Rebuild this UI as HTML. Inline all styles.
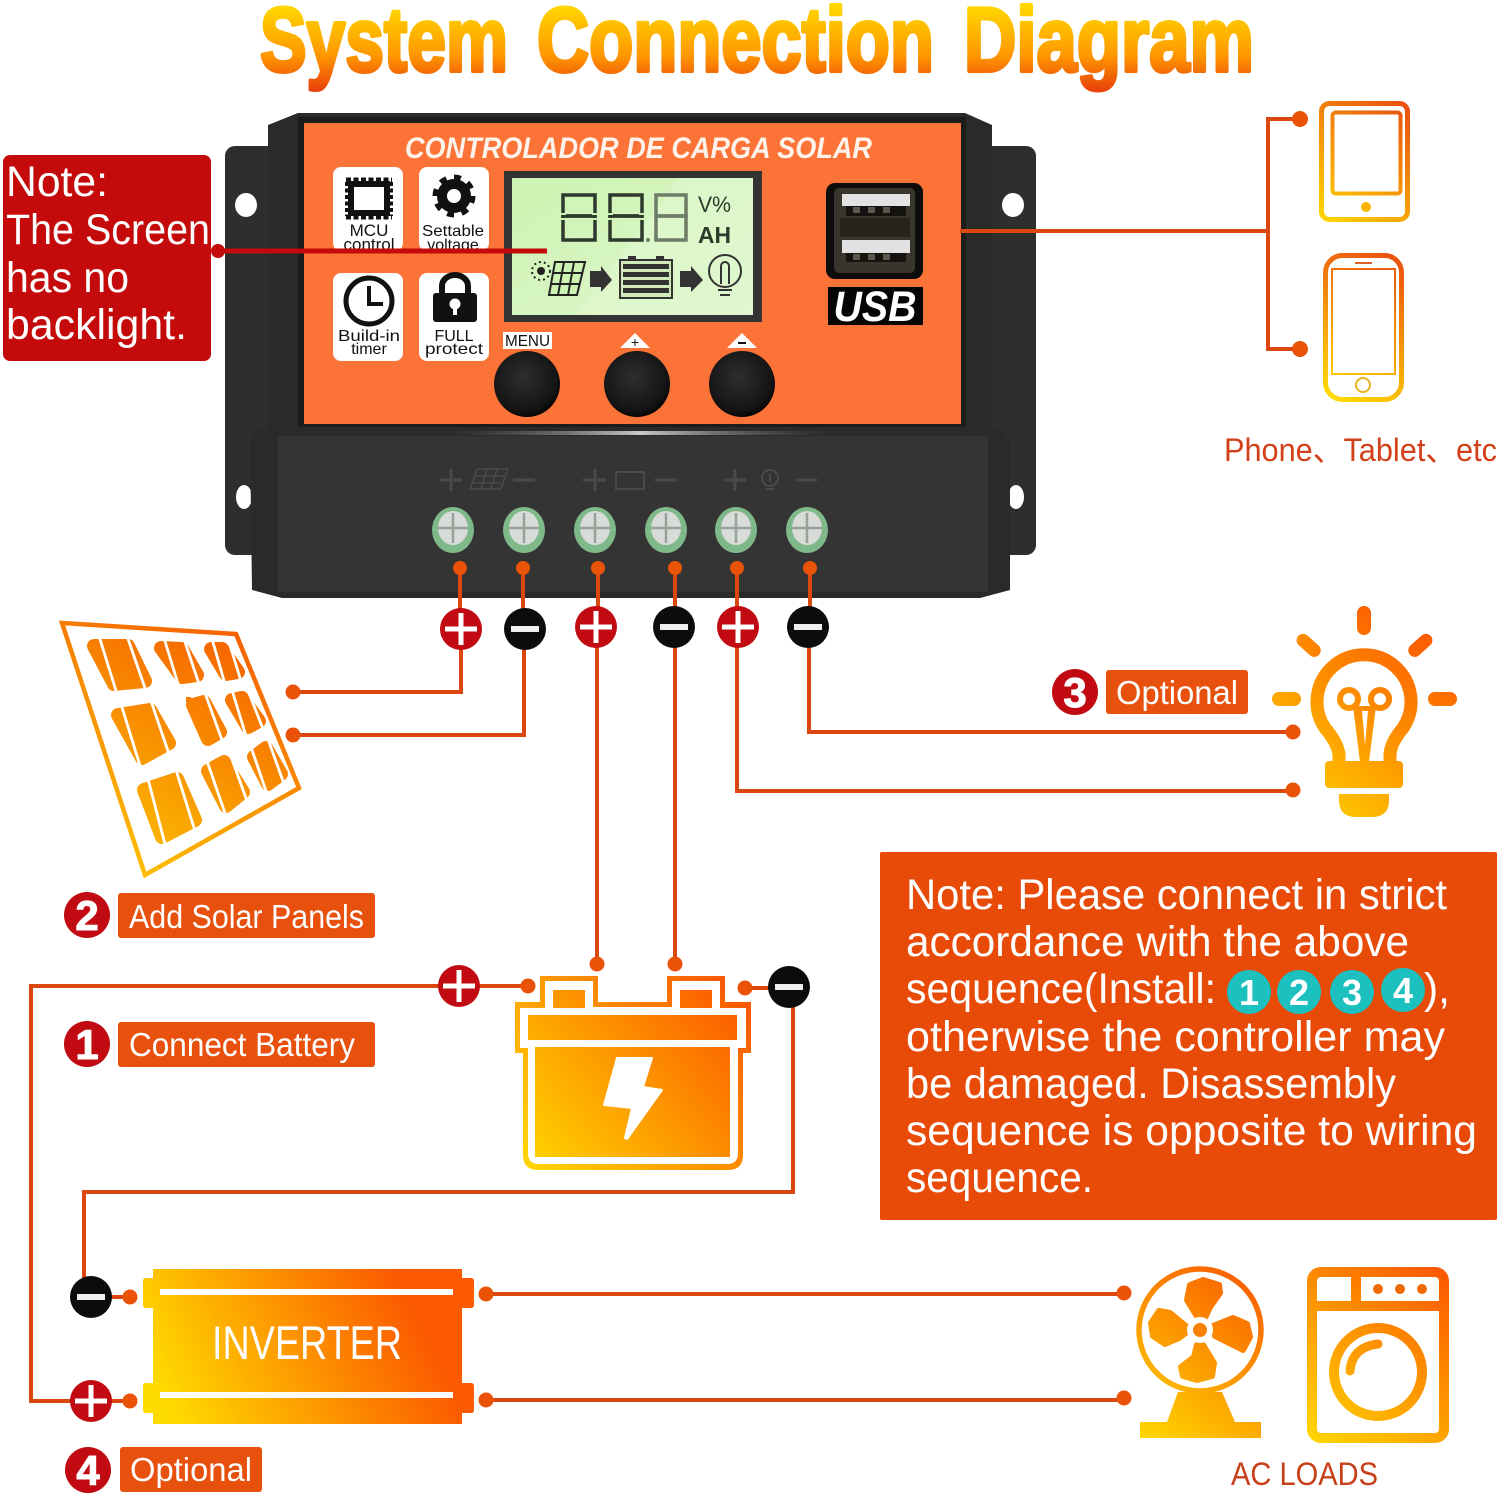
<!DOCTYPE html>
<html><head><meta charset="utf-8"><title>System Connection Diagram</title>
<style>html,body{margin:0;padding:0;background:#fff}svg{display:block}
text{font-family:"Liberation Sans","Noto Sans CJK SC",sans-serif}
</style></head><body>
<svg xmlns="http://www.w3.org/2000/svg" width="1500" height="1495" viewBox="0 0 1500 1495">
<defs>
<linearGradient id="gT" gradientUnits="userSpaceOnUse" x1="0" y1="3" x2="0" y2="90"><stop offset="0" stop-color="#ffdb00"/><stop offset=".6" stop-color="#ff9800"/><stop offset="1" stop-color="#e8430a"/></linearGradient>
<linearGradient id="gS" gradientUnits="userSpaceOnUse" x1="130" y1="880" x2="270" y2="630"><stop offset="0" stop-color="#fcc200"/><stop offset="1" stop-color="#f55a00"/></linearGradient>
<linearGradient id="gB" gradientUnits="userSpaceOnUse" x1="530" y1="1170" x2="745" y2="990"><stop offset="0" stop-color="#ffd500"/><stop offset="1" stop-color="#fb5500"/></linearGradient>
<linearGradient id="gI" gradientUnits="userSpaceOnUse" x1="170" y1="1420" x2="450" y2="1280"><stop offset="0" stop-color="#ffdc00"/><stop offset=".85" stop-color="#fb5a00"/></linearGradient>
<linearGradient id="gL" gradientUnits="userSpaceOnUse" x1="1300" y1="815" x2="1435" y2="640"><stop offset="0" stop-color="#ffd000"/><stop offset="1" stop-color="#fb5a00"/></linearGradient>
<linearGradient id="gF" gradientUnits="userSpaceOnUse" x1="1140" y1="1440" x2="1265" y2="1270"><stop offset="0" stop-color="#ffd800"/><stop offset="1" stop-color="#f95600"/></linearGradient>
<linearGradient id="gW" gradientUnits="userSpaceOnUse" x1="1307" y1="1443" x2="1449" y2="1267"><stop offset="0" stop-color="#ffd800"/><stop offset="1" stop-color="#fb5400"/></linearGradient>
<linearGradient id="gP1" gradientUnits="userSpaceOnUse" x1="1320" y1="222" x2="1410" y2="100"><stop offset="0" stop-color="#ffd800"/><stop offset="1" stop-color="#ea4a10"/></linearGradient>
<linearGradient id="gP2" gradientUnits="userSpaceOnUse" x1="1323" y1="402" x2="1404" y2="253"><stop offset="0" stop-color="#ffe000"/><stop offset="1" stop-color="#ea4a10"/></linearGradient>
<linearGradient id="gLCD" x1="0" y1="0" x2="1" y2="1"><stop offset="0" stop-color="#cdf3b2"/><stop offset="1" stop-color="#def7cd"/></linearGradient>
<linearGradient id="gHi" x1="0" y1="0" x2="1" y2="0"><stop offset="0" stop-color="#555" stop-opacity="0"/><stop offset=".5" stop-color="#c8c8c8"/><stop offset="1" stop-color="#555" stop-opacity="0"/></linearGradient>
<radialGradient id="gBtn" cx=".45" cy=".4" r=".6"><stop offset="0" stop-color="#2e2e2e"/><stop offset=".85" stop-color="#141414"/><stop offset="1" stop-color="#050505"/></radialGradient>
</defs>

<!-- Title -->
<g font-size="91" font-weight="700" fill="url(#gT)" stroke="url(#gT)" stroke-width="4" stroke-linejoin="round" lengthAdjust="spacingAndGlyphs">
<text x="260" y="71" textLength="248" lengthAdjust="spacingAndGlyphs">System</text>
<text x="537" y="71" textLength="397" lengthAdjust="spacingAndGlyphs">Connection</text>
<text x="964" y="71" textLength="290" lengthAdjust="spacingAndGlyphs">Diagram</text>
</g>

<!-- Controller -->
<rect x="225" y="146" width="60" height="409" rx="10" fill="#2e2e2e"/>
<rect x="976" y="146" width="60" height="409" rx="10" fill="#2e2e2e"/>
<polygon points="268,125 298,113 965,113 992,125 992,432 268,432" fill="#2a2a2a"/>
<rect x="298" y="117" width="668" height="310" fill="#1c1c1c"/>
<rect x="304" y="123" width="657" height="301" fill="#fb7336"/>
<ellipse cx="246" cy="205" rx="11" ry="12" fill="#fff"/><ellipse cx="1013" cy="205" rx="11" ry="12" fill="#fff"/>
<ellipse cx="244" cy="497" rx="8" ry="12" fill="#fff"/><ellipse cx="1016" cy="497" rx="8" ry="12" fill="#fff"/>
<polygon points="256,428 1000,428 1010,440 1010,590 980,598 282,598 252,590 250,440" fill="#2a2a2a"/>
<polygon points="278,436 988,436 988,592 278,592" fill="#343434"/>
<rect x="440" y="431" width="400" height="4" fill="url(#gHi)"/>

<text x="405" y="158" font-size="30" font-style="italic" font-weight="700" fill="#fdf3ea" textLength="467" lengthAdjust="spacingAndGlyphs">CONTROLADOR DE CARGA SOLAR</text>

<!-- Feature cards -->
<rect x="333" y="167" width="70" height="84" rx="8" fill="#fff"/>
<rect x="419" y="167" width="70" height="84" rx="8" fill="#fff"/>
<rect x="333" y="273" width="70" height="88" rx="8" fill="#fff"/>
<rect x="419" y="273" width="70" height="88" rx="8" fill="#fff"/>
<rect x="351" y="184" width="36" height="29" fill="#fff" stroke="#111" stroke-width="6"/>
<path d="M346 180H392M346 217H392" stroke="#111" stroke-width="5" stroke-dasharray="5 2.500" fill="none"/>
<path d="M347 182V216M391 182V216" stroke="#111" stroke-width="4" stroke-dasharray="4 2.500" fill="none"/>
<circle cx="454" cy="196" r="12" fill="none" stroke="#111" stroke-width="10"/>
<circle cx="454" cy="196" r="19" fill="none" stroke="#111" stroke-width="5" stroke-dasharray="7 7.900"/>
<circle cx="369" cy="301" r="23" fill="none" stroke="#111" stroke-width="5"/>
<path d="M369 286V304H383" fill="none" stroke="#111" stroke-width="4"/>
<rect x="433" y="293" width="44" height="29" rx="3" fill="#111"/>
<path d="M442 293V286a13 11 0 0 1 26 0V293" fill="none" stroke="#111" stroke-width="6"/>
<circle cx="455" cy="304" r="5.500" fill="#fff"/><rect x="453" y="306" width="4" height="9" fill="#fff"/>
<g fill="#111" text-anchor="middle">
<text x="369" y="236" font-size="17">MCU</text>
<text x="369" y="250" font-size="17">control</text>
<text x="453" y="236" font-size="16" textLength="62" lengthAdjust="spacingAndGlyphs">Settable</text>
<text x="453" y="250" font-size="16">voltage</text>
<text x="369" y="341" font-size="16" textLength="62" lengthAdjust="spacingAndGlyphs">Build-in</text>
<text x="369" y="354" font-size="16">timer</text>
<text x="454" y="341" font-size="16">FULL</text>
<text x="454" y="354" font-size="16" textLength="58" lengthAdjust="spacingAndGlyphs">protect</text>
</g>

<!-- LCD -->
<rect x="504" y="171" width="258" height="151" fill="#333"/>
<rect x="512" y="178" width="241" height="137" fill="url(#gLCD)"/>
<polygon points="680,178 753,178 753,315 575,315" fill="#e2f8d2" opacity=".55"/>
<g fill="none" stroke="#2d392d" stroke-width="3.500">
<rect x="563" y="195" width="32" height="21"/><rect x="563" y="216" width="32" height="24"/>
<rect x="610" y="195" width="32" height="21"/><rect x="610" y="216" width="32" height="24"/>
<g stroke="#6e7c68"><rect x="656" y="195" width="30" height="21"/><rect x="656" y="216" width="30" height="24"/></g>
</g>
<g fill="#cdf3b2"><rect x="560" y="213" width="6" height="2"/><rect x="592" y="213" width="6" height="2"/><rect x="560" y="218" width="6" height="2"/><rect x="592" y="218" width="6" height="2"/>
<rect x="607" y="213" width="6" height="2"/><rect x="639" y="213" width="6" height="2"/><rect x="607" y="218" width="6" height="2"/><rect x="639" y="218" width="6" height="2"/></g>
<circle cx="648" cy="240" r="2" fill="#6e7c68"/>
<text x="698" y="212" font-size="22" fill="#2b3a2b" textLength="33" lengthAdjust="spacingAndGlyphs">V%</text>
<text x="698" y="243" font-size="23" font-weight="700" fill="#2b3a2b" textLength="33" lengthAdjust="spacingAndGlyphs">AH</text>
<circle cx="541" cy="271" r="4" fill="#222"/>
<circle cx="541" cy="271" r="9" fill="none" stroke="#222" stroke-width="2" stroke-dasharray="2 3"/>
<polygon points="555,262 585,262 577,295 549,295" fill="#cdf3b2" stroke="#222" stroke-width="2"/>
<g stroke="#222" stroke-width="2" fill="none"><path d="M553 273H582M551 284H580M564 262L558 295M574 262L568 295"/></g>
<polygon points="590,271 601,271 601,266 612,280 601,292 601,287 590,287" fill="#333"/>
<polygon points="680,271 691,271 691,266 703,280 691,292 691,287 680,287" fill="#333"/>
<rect x="620" y="260" width="52" height="38" fill="#cfe9bb" stroke="#333" stroke-width="2"/>
<g fill="#333"><rect x="623" y="264" width="46" height="5"/><rect x="623" y="272" width="46" height="5"/><rect x="623" y="280" width="46" height="5"/><rect x="623" y="288" width="46" height="5"/><rect x="628" y="256" width="8" height="4"/><rect x="656" y="256" width="8" height="4"/></g>
<circle cx="725" cy="271" r="16" fill="none" stroke="#333" stroke-width="2"/>
<path d="M718 290H732M720 295H730" stroke="#333" stroke-width="2"/>
<path d="M721 284V266a4 4 0 0 1 8 0V284" fill="none" stroke="#333" stroke-width="2"/>

<!-- Buttons -->
<rect x="503" y="332" width="49" height="17" fill="#fff"/>
<text x="505" y="346" font-size="16" fill="#111" textLength="45" lengthAdjust="spacingAndGlyphs">MENU</text>
<polygon points="635,333 650,348 620,348" fill="#fff"/><polygon points="742,333 757,348 727,348" fill="#fff"/>
<text x="635" y="347" font-size="14" fill="#111" text-anchor="middle">+</text>
<rect x="738" y="342" width="8" height="2" fill="#111"/>
<circle cx="527" cy="384" r="33" fill="url(#gBtn)"/>
<circle cx="637" cy="384" r="33" fill="url(#gBtn)"/>
<circle cx="742" cy="384" r="33" fill="url(#gBtn)"/>

<!-- USB -->
<rect x="826" y="183" width="97" height="96" rx="9" fill="#0c0c0c"/>
<rect x="834" y="188" width="81" height="85" rx="5" fill="#3a352c"/>
<rect x="840" y="218" width="70" height="19" fill="#26231d"/>
<rect x="842" y="194" width="68" height="12" fill="#e2e2e2"/>
<rect x="842" y="240" width="68" height="13" fill="#e2e2e2"/>
<g fill="#15130f"><rect x="846" y="206" width="60" height="10"/><rect x="846" y="253" width="60" height="9"/></g>
<g fill="#5e564a"><rect x="853" y="207" width="7" height="6"/><rect x="868" y="207" width="7" height="6"/><rect x="883" y="207" width="7" height="6"/><rect x="853" y="254" width="7" height="6"/><rect x="868" y="254" width="7" height="6"/><rect x="883" y="254" width="7" height="6"/></g>
<rect x="828" y="287" width="95" height="38" fill="#050505"/>
<text x="875" y="321" font-size="43" font-style="italic" font-weight="700" fill="#fff" text-anchor="middle" textLength="83" lengthAdjust="spacingAndGlyphs">USB</text>

<!-- Terminal markings -->
<g stroke="#4a4a4a" stroke-width="3" fill="none">
<path d="M440 480H462M451 469V491M513 480H535M583 480H606M595 469V491M655 480H677M724 480H746M735 469V491M796 480H817"/>
<path d="M477 469H508L501 489H470ZM475 476H504M472 483H501M487 469L481 489M497 469L491 489" stroke-width="1.500"/>
<rect x="616" y="472" width="28" height="17" stroke-width="2"/>
<circle cx="770" cy="478" r="8" stroke-width="2"/><path d="M766 489H774M770 474V482" stroke-width="2"/>
</g>
<!-- Screws -->
<g>
<ellipse cx="453" cy="530" rx="21" ry="23" fill="#7fb98a"/><ellipse cx="453" cy="528" rx="15" ry="17" fill="#d8dbd8"/><path d="M453 513V543M438 528H468" stroke="#9aa09a" stroke-width="2.500"/>
<ellipse cx="524" cy="530" rx="21" ry="23" fill="#7fb98a"/><ellipse cx="524" cy="528" rx="15" ry="17" fill="#d8dbd8"/><path d="M524 513V543M509 528H539" stroke="#9aa09a" stroke-width="2.500"/>
<ellipse cx="595" cy="530" rx="21" ry="23" fill="#7fb98a"/><ellipse cx="595" cy="528" rx="15" ry="17" fill="#d8dbd8"/><path d="M595 513V543M580 528H610" stroke="#9aa09a" stroke-width="2.500"/>
<ellipse cx="666" cy="530" rx="21" ry="23" fill="#7fb98a"/><ellipse cx="666" cy="528" rx="15" ry="17" fill="#d8dbd8"/><path d="M666 513V543M651 528H681" stroke="#9aa09a" stroke-width="2.500"/>
<ellipse cx="736" cy="530" rx="21" ry="23" fill="#7fb98a"/><ellipse cx="736" cy="528" rx="15" ry="17" fill="#d8dbd8"/><path d="M736 513V543M721 528H751" stroke="#9aa09a" stroke-width="2.500"/>
<ellipse cx="807" cy="530" rx="21" ry="23" fill="#7fb98a"/><ellipse cx="807" cy="528" rx="15" ry="17" fill="#d8dbd8"/><path d="M807 513V543M792 528H822" stroke="#9aa09a" stroke-width="2.500"/>
</g>

<!-- Wires -->
<g fill="none" stroke="#db480f" stroke-width="4">
<path d="M460 568V630M523 568V630M598 568V630M675 568V630M737 568V630M810 568V630"/>
<path d="M293 692H461V640M293 735H524V640"/>
<path d="M597 640V964M675 640V964"/>
<path d="M809 640V732H1293M737 640V791H1293"/>
<path d="M528 986H31V1401H130"/>
<path d="M745 988H790"/>
<path d="M793 1000V1192H84V1297H130"/>
<path d="M486 1294H1124M486 1400H1124"/>
<path d="M960 231H1268M1300 119H1268V349H1300"/>
</g>
<g fill="#ea5208">
<circle cx="460" cy="568" r="7"/><circle cx="523" cy="568" r="7"/><circle cx="598" cy="568" r="7"/><circle cx="675" cy="568" r="7"/><circle cx="737" cy="568" r="7"/><circle cx="810" cy="568" r="7"/>
<circle cx="293" cy="692" r="7.500"/><circle cx="293" cy="735" r="7.500"/>
<circle cx="597" cy="964" r="7.500"/><circle cx="675" cy="964" r="7.500"/>
<circle cx="528" cy="986" r="7.500"/><circle cx="745" cy="988" r="7.500"/>
<circle cx="1293" cy="732" r="7.500"/><circle cx="1293" cy="790" r="7.500"/>
<circle cx="130" cy="1297" r="7.500"/><circle cx="130" cy="1401" r="7.500"/>
<circle cx="486" cy="1294" r="7.500"/><circle cx="486" cy="1400" r="7.500"/>
<circle cx="1124" cy="1293" r="7.500"/><circle cx="1124" cy="1398" r="7.500"/>
<circle cx="1300" cy="119" r="8"/><circle cx="1300" cy="349" r="8"/>
</g>

<!-- Signs -->
<g>
<circle cx="461" cy="629" r="21" fill="#c10a12"/><path d="M445 629H477M461 613V645" stroke="#fff" stroke-width="5"/>
<circle cx="525" cy="629" r="21" fill="#0c0c0c"/><path d="M511 629H539" stroke="#eee" stroke-width="6"/>
<circle cx="596" cy="627" r="21" fill="#c10a12"/><path d="M580 627H612M596 611V643" stroke="#fff" stroke-width="5"/>
<circle cx="674" cy="627" r="21" fill="#0c0c0c"/><path d="M660 627H688" stroke="#eee" stroke-width="6"/>
<circle cx="738" cy="627" r="21" fill="#c10a12"/><path d="M722 627H754M738 611V643" stroke="#fff" stroke-width="5"/>
<circle cx="808" cy="627" r="21" fill="#0c0c0c"/><path d="M794 627H822" stroke="#eee" stroke-width="6"/>
<circle cx="459" cy="986" r="21" fill="#c10a12"/><path d="M443 986H475M459 970V1002" stroke="#fff" stroke-width="5"/>
<circle cx="789" cy="987" r="21" fill="#0c0c0c"/><path d="M775 987H803" stroke="#eee" stroke-width="6"/>
<circle cx="91" cy="1297" r="21" fill="#0c0c0c"/><path d="M77 1297H105" stroke="#eee" stroke-width="6"/>
<circle cx="91" cy="1401" r="21" fill="#c10a12"/><path d="M75 1401H107M91 1385V1417" stroke="#fff" stroke-width="5"/>
</g>

<!-- Red note -->
<rect x="3" y="155" width="208" height="206" rx="7" fill="#c40a0a"/>
<g fill="#fff" font-size="43">
<text x="6" y="196" textLength="102" lengthAdjust="spacingAndGlyphs">Note:</text>
<text x="6" y="244" textLength="204" lengthAdjust="spacingAndGlyphs">The Screen</text>
<text x="6" y="292" textLength="123" lengthAdjust="spacingAndGlyphs">has no</text>
<text x="6" y="339" textLength="181" lengthAdjust="spacingAndGlyphs">backlight.</text>
</g>
<path d="M218 251H547" stroke="#c40a0a" stroke-width="5"/>
<circle cx="218" cy="251" r="7" fill="#c40a0a"/>

<!-- Tablet / phone -->
<rect x="1321.500" y="103.500" width="86" height="116" rx="8" fill="#fff" stroke="url(#gP1)" stroke-width="5"/>
<rect x="1332.500" y="112.500" width="68" height="81" rx="3" fill="#fff" stroke="url(#gP1)" stroke-width="4"/>
<circle cx="1366" cy="207" r="5" fill="#fbb400"/>
<rect x="1325.500" y="255.500" width="76" height="144" rx="17" fill="#fff" stroke="url(#gP2)" stroke-width="5"/>
<rect x="1332" y="269" width="63" height="105" fill="none" stroke="url(#gP2)" stroke-width="2"/>
<path d="M1355 263H1372" stroke="#d9602a" stroke-width="2"/>
<circle cx="1363" cy="385" r="7" fill="none" stroke="#e6b520" stroke-width="2"/>
<text x="1224" y="461" font-size="32" fill="#d2401a" textLength="273" lengthAdjust="spacingAndGlyphs">Phone、Tablet、etc</text>

<!-- Solar panel -->
<polygon points="62,623 236,634 299,788 145,875" fill="#fff" stroke="url(#gS)" stroke-width="4.500"/>
<g fill="url(#gS)" stroke="url(#gS)" stroke-width="14" stroke-linejoin="round">
<polygon points="94,646 128,646 145,681 114,684"/>
<polygon points="161,648 182,649 197,675 182,677"/>
<polygon points="211,649 222,649 238,672 226,674"/>
<polygon points="118,715 150,710 169,743 142,758"/>
<polygon points="193,705 204,702 220,732 208,739"/>
<polygon points="232,700 242,698 259,721 248,727"/>
<polygon points="144,790 177,779 195,820 162,837"/>
<polygon points="208,771 224,762 243,792 226,806"/>
<polygon points="254,757 266,748 281,774 268,784"/>
</g>
<rect x="186" y="697" width="5" height="5" fill="url(#gS)"/>
<g stroke="#fff" stroke-width="2.800" fill="none">
<path d="M99 636L117 694M127 636L146 691"/>
<path d="M164 638L179 687M184 639L199 684"/>
<path d="M212 639L225 684M228 639L241 681"/>
<path d="M121 704L141 769M151 701L170 757"/>
<path d="M205 693L223 743"/>
<path d="M232 690L246 736M247 688L263 729"/>
<path d="M148 779L166 848M176 770L195 831"/>
<path d="M207 761L226 816M229 751L247 801"/>
<path d="M251 747L267 794M268 739L284 784"/>
</g>

<!-- Labels -->
<circle cx="87" cy="915" r="23" fill="#c10a12"/>
<text x="87" y="930" font-size="42" font-weight="700" fill="#fff" stroke="#fff" stroke-width="1" text-anchor="middle">2</text>
<rect x="118" y="893" width="257" height="45" rx="3" fill="#e8500d"/>
<text x="129" y="928" font-size="33" fill="#fff" textLength="235" lengthAdjust="spacingAndGlyphs">Add Solar Panels</text>

<circle cx="87" cy="1044" r="23" fill="#c10a12"/>
<text x="87" y="1059" font-size="42" font-weight="700" fill="#fff" stroke="#fff" stroke-width="1" text-anchor="middle">1</text>
<rect x="118" y="1022" width="257" height="45" rx="3" fill="#e8500d"/>
<text x="129" y="1056" font-size="33" fill="#fff" textLength="226" lengthAdjust="spacingAndGlyphs">Connect Battery</text>

<circle cx="1075" cy="692" r="23" fill="#c10a12"/>
<text x="1075" y="707" font-size="42" font-weight="700" fill="#fff" stroke="#fff" stroke-width="1" text-anchor="middle">3</text>
<rect x="1106" y="670" width="142" height="44" rx="3" fill="#e8500d"/>
<text x="1116" y="704" font-size="33" fill="#fff" textLength="122" lengthAdjust="spacingAndGlyphs">Optional</text>

<circle cx="88" cy="1470" r="23" fill="#c10a12"/>
<text x="88" y="1485" font-size="42" font-weight="700" fill="#fff" stroke="#fff" stroke-width="1" text-anchor="middle">4</text>
<rect x="120" y="1447" width="142" height="45" rx="3" fill="#e8500d"/>
<text x="130" y="1481" font-size="33" fill="#fff" textLength="122" lengthAdjust="spacingAndGlyphs">Optional</text>

<!-- Bulb -->
<g fill="url(#gL)">
<rect x="1357" y="606" width="14" height="29" rx="7"/>
<rect x="1272" y="692" width="29" height="14" rx="7"/>
<rect x="1428" y="692" width="29" height="14" rx="7"/>
<rect x="1295" y="639" width="28" height="13" rx="6.500" transform="rotate(42 1309 645)"/>
<rect x="1406" y="639" width="28" height="13" rx="6.500" transform="rotate(-42 1420 645)"/>
<rect x="1325" y="761" width="78" height="27" rx="4"/>
<path d="M1339 794H1389V800Q1389 817 1372 817H1356Q1339 817 1339 800Z"/>
</g>
<path d="M1339 762V754Q1337 742 1325 728A47 47 0 1 1 1403 728Q1391 742 1390 754V762" fill="none" stroke="url(#gL)" stroke-width="13"/>
<g fill="none" stroke="url(#gL)" stroke-width="6">
<circle cx="1349" cy="699" r="9"/><circle cx="1380" cy="699" r="9"/>
</g>
<polygon points="1353,706 1376,706 1369,762 1360,762" fill="url(#gL)"/>
<polygon points="1362,711 1368,711 1365,745" fill="#fff"/>

<!-- Note box -->
<rect x="880" y="852" width="617" height="368" rx="2" fill="#e84a08"/>
<g fill="#fff" font-size="43">
<text x="906" y="909" textLength="541" lengthAdjust="spacingAndGlyphs">Note: Please connect in strict</text>
<text x="906" y="956" textLength="503" lengthAdjust="spacingAndGlyphs">accordance with the above</text>
<text x="906" y="1003" textLength="310" lengthAdjust="spacingAndGlyphs">sequence(Install:</text>
<text x="1424" y="1003" textLength="26" lengthAdjust="spacingAndGlyphs">),</text>
<text x="906" y="1051" textLength="539" lengthAdjust="spacingAndGlyphs">otherwise the controller may</text>
<text x="906" y="1098" textLength="490" lengthAdjust="spacingAndGlyphs">be damaged. Disassembly</text>
<text x="906" y="1145" textLength="571" lengthAdjust="spacingAndGlyphs">sequence is opposite to wiring</text>
<text x="906" y="1192" textLength="187" lengthAdjust="spacingAndGlyphs">sequence.</text>
</g>
<g fill="#1bc0bf">
<circle cx="1249" cy="992" r="22"/><circle cx="1299" cy="992" r="22"/><circle cx="1352" cy="992" r="22"/><circle cx="1403" cy="990" r="22"/>
</g>
<g fill="#fff" font-size="36" font-weight="700" text-anchor="middle">
<text x="1249" y="1005">1</text><text x="1299" y="1005">2</text><text x="1352" y="1005">3</text><text x="1403" y="1003">4</text>
</g>

<!-- Battery -->
<path d="M515 1002H540V976H598V1002H667V976H725V1002H751V1053H743V1155Q743 1170 728 1170H538Q523 1170 523 1155V1053H515Z" fill="url(#gB)"/>
<path d="M520 1008H545V981H593V1007H672V981H720V1008H746V1048H738V1153Q738 1164 727 1164H539Q528 1164 528 1153V1048H520Z" fill="#fff"/>
<rect x="553" y="990" width="32" height="18" fill="url(#gB)"/><rect x="680" y="990" width="32" height="18" fill="url(#gB)"/>
<rect x="528" y="1015" width="209" height="25" fill="url(#gB)"/>
<rect x="535" y="1047" width="195" height="110" fill="url(#gB)"/>
<polygon points="617,1058 652,1058 643,1087 662,1090 627,1139 625,1138 632,1108 604,1105" fill="#fff" stroke="#fff" stroke-width="2" stroke-linejoin="round"/>

<!-- Inverter -->
<path d="M153 1269H462V1278H471Q474 1278 474 1281V1305Q474 1308 471 1308H462V1383H471Q474 1383 474 1386V1410Q474 1413 471 1413H462V1424H153V1413H146Q143 1413 143 1410V1386Q143 1383 146 1383H153V1308H146Q143 1308 143 1305V1281Q143 1278 146 1278H153Z" fill="url(#gI)"/>
<rect x="160" y="1289" width="293" height="6" fill="#fff"/>
<rect x="160" y="1392" width="293" height="6" fill="#fff"/>
<text x="212" y="1359" font-size="47" fill="#fff" textLength="190" lengthAdjust="spacingAndGlyphs">INVERTER</text>

<!-- Fan -->
<circle cx="1200" cy="1330" r="61" fill="#fff" stroke="url(#gF)" stroke-width="5.500"/>
<polygon points="1178,1392 1222,1392 1235,1422 1261,1422 1261,1438 1140,1438 1140,1422 1167,1422" fill="url(#gF)"/>
<g fill="url(#gF)" stroke="url(#gF)" stroke-width="6" stroke-linejoin="round">
<polygon points="1198,1318 1187,1300 1190,1285 1203,1280 1219,1285 1220,1293 1210,1307 1205,1318"/>
<polygon points="1213,1326 1233,1318 1247,1324 1250,1337 1243,1350 1233,1345 1215,1336"/>
<polygon points="1203,1345 1214,1363 1212,1376 1197,1380 1183,1376 1181,1367 1194,1357 1197,1345"/>
<polygon points="1187,1327 1170,1313 1159,1311 1151,1323 1153,1336 1165,1344 1179,1338 1187,1332"/>
</g>
<circle cx="1200" cy="1330" r="13" fill="#fff"/>
<circle cx="1200" cy="1330" r="7" fill="#f98000"/>

<!-- Washer -->
<rect x="1312" y="1272" width="132" height="166" rx="9" fill="#fff" stroke="url(#gW)" stroke-width="10"/>
<path d="M1312 1306H1444M1356 1272V1306" fill="none" stroke="url(#gW)" stroke-width="10"/>
<circle cx="1378" cy="1289" r="5" fill="#f06a00"/><circle cx="1400" cy="1289" r="5" fill="#f06a00"/><circle cx="1422" cy="1289" r="5" fill="#f06a00"/>
<circle cx="1378" cy="1372" r="44" fill="none" stroke="url(#gW)" stroke-width="10"/>
<path d="M1350 1371Q1352 1347 1378 1344" fill="none" stroke="url(#gW)" stroke-width="9" stroke-linecap="round"/>
<text x="1231" y="1485" font-size="32" fill="#c8401a" textLength="147" lengthAdjust="spacingAndGlyphs">AC LOADS</text>
</svg>
</body></html>
